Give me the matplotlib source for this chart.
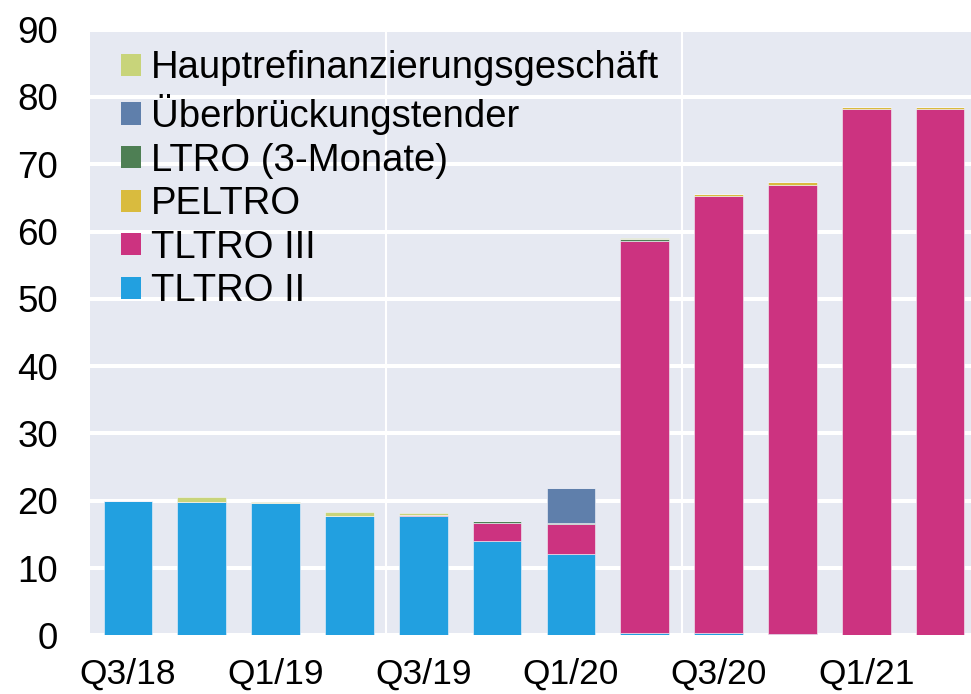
import matplotlib
matplotlib.use("Agg")
import matplotlib.pyplot as plt
import numpy as np
from matplotlib.patches import Patch

plt.rcParams["font.family"] = ["Liberation Sans", "DejaVu Sans"]

quarters = ["Q3/18", "Q4/18", "Q1/19", "Q2/19", "Q3/19", "Q4/19",
            "Q1/20", "Q2/20", "Q3/20", "Q4/20", "Q1/21", "Q2/21"]

# EUR bn, stacked bottom -> top
tltro_ii = [19.9, 19.8, 19.7, 17.8, 17.75, 14.05, 12.1, 0.4, 0.3, 0.2, 0.0, 0.0]
tltro_iii = [0.0, 0.0, 0.0, 0.0, 0.15, 2.7, 4.5, 58.2, 65.0, 66.7, 78.2, 78.2]
peltro = [0.0, 0.0, 0.0, 0.0, 0.0, 0.0, 0.0, 0.0, 0.3, 0.4, 0.3, 0.3]
ltro_3m = [0.0, 0.0, 0.0, 0.0, 0.0, 0.25, 0.1, 0.3, 0.0, 0.0, 0.0, 0.0]
bridge = [0.0, 0.0, 0.0, 0.0, 0.0, 0.0, 5.2, 0.0, 0.0, 0.0, 0.0, 0.0]
mro = [0.1, 0.7, 0.1, 0.5, 0.3, 0.0, 0.0, 0.15, 0.0, 0.0, 0.0, 0.0]

series = [
    ("TLTRO II", tltro_ii, "#22a0e0"),
    ("TLTRO III", tltro_iii, "#cc3380"),
    ("PELTRO", peltro, "#d9bb3e"),
    ("LTRO (3-Monate)", ltro_3m, "#4e7f54"),
    ("Überbrückungstender", bridge, "#5f7fab"),
    ("Hauptrefinanzierungsgeschäft", mro, "#c8d47a"),
]

fig = plt.figure(figsize=(9.71, 6.94), dpi=100)
ax = fig.add_axes([90 / 971, 1 - 635.3 / 694, 1 - 90 / 971, (635.3 - 29.6) / 694])
ax.set_facecolor("#e6e9f2")

x = np.arange(len(quarters))
bottom = np.zeros(len(quarters))
for name, vals, col in series:
    vals = np.array(vals)
    ax.bar(x, vals, width=0.66, bottom=bottom, color=col,
           edgecolor="#f4f4fa", linewidth=0.4, zorder=3)
    bottom += vals

ax.set_ylim(0, 90)
ax.set_yticks(range(0, 91, 10))
ax.set_xlim(-0.515, 11.42)
ax.set_xticks(x[::2])
ax.set_xticklabels(quarters[::2])
ax.tick_params(axis="both", length=0, labelsize=26.5)
ax.tick_params(axis="x", labelsize=25.5, pad=16)
ax.tick_params(axis="y", pad=23)

ax.grid(axis="y", color="white", linewidth=2.9, zorder=1)
for xv in (3.5, 7.5):
    ax.axvline(xv, color="white", linewidth=1.5, zorder=1)
for s in ax.spines.values():
    s.set_visible(False)

handles = [Patch(facecolor=c, label=n) for n, _, c in series][::-1]
ax.legend(handles=handles, loc="upper left", bbox_to_anchor=(0.005, 1.01),
          frameon=False, fontsize=27.5, handlelength=0.52, handleheight=0.52,
          handletextpad=0.25, labelspacing=0.2, borderaxespad=0.3)

fig.savefig("out.png", dpi=100)
